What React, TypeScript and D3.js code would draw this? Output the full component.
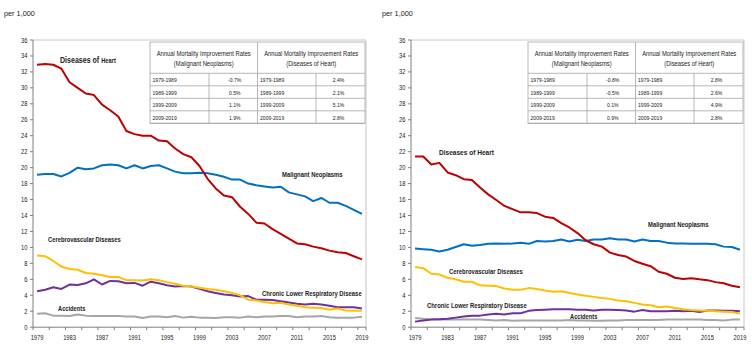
import React from "react";
import * as d3 from "d3";

// ---------- DATA ----------
const years = [1979,1980,1981,1982,1983,1984,1985,1986,1987,1988,1989,1990,1991,1992,1993,1994,1995,1996,1997,1998,1999,2000,2001,2002,2003,2004,2005,2006,2007,2008,2009,2010,2011,2012,2013,2014,2015,2016,2017,2018,2019];
const xTickLabels = [1979,1983,1987,1991,1995,1999,2003,2007,2011,2015,2019];
const yTicks = [0,2,4,6,8,10,12,14,16,18,20,22,24,26,28,30,32,34,36];

const seriesNames = ["Diseases of Heart","Malignant Neoplasms","Cerebrovascular Diseases","Chronic Lower Respiratory Disease","Accidents"];

// left panel
const heartL = [32.9,33.0,32.9,32.4,30.7,30.0,29.3,29.1,27.9,27.2,26.4,24.6,24.2,24.0,24.0,23.4,23.3,22.4,21.7,21.3,20.2,18.6,17.4,16.5,16.3,15.1,14.2,13.1,13.0,12.3,11.7,11.1,10.5,10.4,10.1,9.9,9.6,9.4,9.3,8.9,8.5];
const malL = [19.1,19.2,19.2,18.9,19.35,20.0,19.8,19.9,20.3,20.4,20.3,19.9,20.3,19.9,20.2,20.3,19.9,19.5,19.3,19.3,19.35,19.3,19.1,18.85,18.5,18.5,18.0,17.8,17.65,17.5,17.6,16.9,16.65,16.4,15.8,16.2,15.6,15.6,15.2,14.7,14.2];
const cereL = [9.0,8.9,8.3,7.6,7.3,7.2,6.8,6.7,6.5,6.3,6.3,5.9,5.9,5.85,6.0,5.9,5.65,5.45,5.2,5.1,4.95,4.8,4.7,4.5,4.3,4.0,3.45,3.35,3.15,3.0,3.05,2.85,2.7,2.5,2.45,2.4,2.2,2.35,2.1,2.05,2.05];
const clrdL = [4.5,4.7,5.0,4.8,5.35,5.3,5.5,6.0,5.35,5.8,5.75,5.5,5.55,5.2,5.7,5.5,5.25,5.1,5.15,5.1,4.8,4.5,4.3,4.1,4.0,3.85,3.9,3.45,3.45,3.4,3.25,3.1,2.95,2.85,2.95,2.85,2.7,2.5,2.5,2.5,2.35];
const accL = [1.7,1.75,1.45,1.45,1.4,1.6,1.45,1.4,1.4,1.4,1.4,1.35,1.35,1.15,1.35,1.35,1.25,1.4,1.2,1.3,1.2,1.2,1.15,1.25,1.25,1.2,1.35,1.25,1.35,1.35,1.4,1.4,1.25,1.35,1.35,1.4,1.25,1.2,1.2,1.2,1.3];

// right panel
const heartR = [21.4,21.4,20.4,20.6,19.4,19.05,18.55,18.45,17.5,16.65,15.95,15.2,14.8,14.4,14.4,14.3,13.85,13.7,13.05,12.5,11.8,10.9,10.4,10.1,9.35,9.05,8.85,8.3,7.95,7.65,6.95,6.7,6.2,6.05,6.15,6.0,5.9,5.65,5.5,5.2,5.0];
const malR = [9.85,9.77,9.7,9.5,9.7,10.05,10.4,10.2,10.3,10.45,10.5,10.45,10.5,10.6,10.45,10.8,10.75,10.8,11.0,10.75,10.95,10.8,11.0,11.0,11.15,11.0,11.0,10.75,11.0,10.8,10.8,10.6,10.5,10.5,10.45,10.45,10.45,10.4,10.1,10.05,9.7];
const cereR = [7.55,7.4,6.7,6.6,6.2,6.0,5.7,5.7,5.25,5.2,5.15,4.85,4.7,4.7,4.9,4.8,4.6,4.45,4.5,4.3,4.1,3.95,3.8,3.65,3.55,3.35,3.25,3.05,2.85,2.75,2.5,2.6,2.4,2.25,2.15,2.1,2.05,2.0,1.95,1.9,1.7];
const clrdR = [0.7,0.85,0.95,1.0,1.05,1.2,1.35,1.45,1.45,1.6,1.7,1.6,1.75,1.75,2.05,2.15,2.2,2.25,2.25,2.25,2.2,2.2,2.1,2.2,2.2,2.15,2.1,1.95,2.15,2.0,2.0,2.0,2.05,2.0,2.05,1.9,2.1,2.1,2.05,2.05,2.0];
const accR = [1.15,1.05,1.0,0.95,0.95,0.95,0.95,0.95,0.95,0.9,0.85,0.9,0.8,0.85,0.85,0.85,0.85,0.85,0.85,0.9,0.85,0.85,0.8,0.8,0.85,0.85,0.9,0.9,0.9,0.9,0.9,0.95,0.95,0.95,0.95,0.95,0.9,0.9,0.85,0.95,0.95];

// tables
const periods = ["1979-1989","1989-1999","1999-2009","2009-2019"];
const tableTitle = "Annual Mortality Improvement Rates";
const tableSubMal = "(Malignant Neoplasms)";
const tableSubHeart = "(Diseases of Heart)";
const malRatesL = ["-0.7%","0.5%","1.1%","1.9%"];
const heartRatesL = ["2.4%","2.1%","5.1%","2.8%"];
const malRatesR = ["-0.8%","-0.5%","0.1%","0.9%"];
const heartRatesR = ["2.8%","2.6%","4.9%","2.8%"];
const unitLabel = "per 1,000";

// ---------- STYLE ----------
const colors = ["#C00000", "#0070C0", "#FFC000", "#7030A0", "#A6A6A6"];
const FONT = "'Liberation Sans', Arial, sans-serif";
const TXT = "#222";
const SX = 0.82;

function NText({ x, y, size, anchor = "start", weight = "normal", children }: any) {
  return (
    <text
      transform={`translate(${x},${y}) scale(${SX},1)`}
      fontSize={size}
      textAnchor={anchor}
      fontWeight={weight}
      fontFamily={FONT}
      fill={TXT}
    >
      {children}
    </text>
  );
}

function Table({ x0, y0, malRates, heartRates }: any) {
  const c0 = x0, c1 = x0 + 59, c2 = x0 + 107.5, c3 = x0 + 166, c4 = x0 + 215;
  const hTop = y0, hBot = y0 + 31.3, rowH = 12.5;
  const rowsBottom = hBot + rowH * periods.length;
  const stroke = "#a6a6a6";
  return (
    <g>
      <rect x={c0} y={hTop} width={c4 - c0} height={rowsBottom - hTop} fill="#fff" stroke={stroke} strokeWidth={0.8} />
      <line x1={c2} x2={c2} y1={hTop} y2={rowsBottom} stroke={stroke} strokeWidth={0.8} />
      <line x1={c0} x2={c4} y1={hBot} y2={hBot} stroke={stroke} strokeWidth={0.8} />
      <line x1={c1} x2={c1} y1={hBot} y2={rowsBottom} stroke={stroke} strokeWidth={0.8} />
      <line x1={c3} x2={c3} y1={hBot} y2={rowsBottom} stroke={stroke} strokeWidth={0.8} />
      {periods.map((p, i) => (
        <line key={"r" + i} x1={c0} x2={c4} y1={hBot + rowH * (i + 1)} y2={hBot + rowH * (i + 1)} stroke={stroke} strokeWidth={0.8} />
      ))}
      <NText x={(c0 + c2) / 2} y={hTop + 13.5} size={7.1} anchor="middle">{tableTitle}</NText>
      <NText x={(c0 + c2) / 2} y={hTop + 23.5} size={7.1} anchor="middle">{tableSubMal}</NText>
      <NText x={(c2 + c4) / 2} y={hTop + 13.5} size={7.1} anchor="middle">{tableTitle}</NText>
      <NText x={(c2 + c4) / 2} y={hTop + 23.5} size={7.1} anchor="middle">{tableSubHeart}</NText>
      {periods.map((p, i) => {
        const yb = hBot + rowH * i + 8.8;
        return (
          <g key={"t" + i}>
            <NText x={c0 + 2.5} y={yb} size={6.2}>{p}</NText>
            <NText x={(c1 + c2) / 2 + 1.5} y={yb} size={6.2} anchor="middle">{malRates[i]}</NText>
            <NText x={c2 + 2.5} y={yb} size={6.2}>{p}</NText>
            <NText x={(c3 + c4) / 2 - 2} y={yb} size={6.2} anchor="middle">{heartRates[i]}</NText>
          </g>
        );
      })}
    </g>
  );
}

function Panel({ ox, data, labels, malRates, heartRates, heartSplit }: any) {
  const left = ox + 33, right = ox + 366;
  const x = d3.scaleBand<number>().domain(years).range([left, right]).paddingInner(0).paddingOuter(0);
  const bw = x.bandwidth();
  const cx = (yr: number) => (x(yr) as number) + bw / 2;
  const y = d3.scaleLinear().domain([0, 36]).range([327.2, 40]);
  const line = d3.line<number>().x((_, i) => cx(years[i])).y((v) => y(v));
  const axisC = "#7f7f7f";
  const tickBounds = years.filter((_, i) => i % 2 === 0).map((yr) => x(yr) as number).concat([right]);

  return (
    <g>
      <text x={ox + 4} y={15.5} fontSize={7.3} fontFamily={FONT} fill={TXT}>{unitLabel}</text>
      <line x1={left} x2={right} y1={y(36)} y2={y(36)} stroke="#c8c8c8" strokeWidth={1} />
      <line x1={right} x2={right} y1={y(36)} y2={y(0)} stroke="#c8c8c8" strokeWidth={1} />
      <line x1={left} x2={left} y1={y(36)} y2={y(0)} stroke={axisC} strokeWidth={1} />
      {yTicks.map((t) => (
        <g key={"y" + t}>
          <line x1={left - 3} x2={left} y1={y(t)} y2={y(t)} stroke={axisC} strokeWidth={1} />
          <NText x={left - 5.5} y={y(t) + 2.5} size={7} anchor="end">{t}</NText>
        </g>
      ))}
      <line x1={left} x2={right} y1={y(0)} y2={y(0)} stroke={axisC} strokeWidth={1} />
      {tickBounds.map((b, i) => (
        <line key={"xt" + i} x1={b} x2={b} y1={y(0)} y2={y(0) + 3} stroke={axisC} strokeWidth={1} />
      ))}
      {xTickLabels.map((yr) => (
        <NText key={"xl" + yr} x={cx(yr)} y={340} size={7} anchor="middle">{yr}</NText>
      ))}
      {data.slice().reverse().map((vals: number[], ri: number) => {
        const i = data.length - 1 - ri;
        return <path key={"s" + i} d={line(vals) as string} fill="none" stroke={colors[i]} strokeWidth={2} strokeLinejoin="round" />;
      })}
      <Table x0={left + 117} y0={42} malRates={malRates} heartRates={heartRates} />
      {labels.map((l: any, i: number) =>
        i === 0 && heartSplit ? (
          <text key={"lab" + i} transform={`translate(${l.x},${l.y}) scale(${SX},1)`} fontFamily={FONT} fontWeight="bold" fill={TXT}>
            <tspan fontSize={8.6}>Diseases of </tspan>
            <tspan fontSize={7}>Heart</tspan>
          </text>
        ) : (
          <NText key={"lab" + i} x={l.x} y={l.y} size={l.size} weight="bold">{seriesNames[i]}</NText>
        )
      )}
    </g>
  );
}

const labelsL = [
  { x: 60, y: 63, size: 8.6 },
  { x: 282, y: 177, size: 7.2 },
  { x: 48, y: 242, size: 7.1 },
  { x: 262, y: 296, size: 7.2 },
  { x: 58, y: 311, size: 7.0 },
];
const labelsR = [
  { x: 439, y: 155, size: 8 },
  { x: 648, y: 227, size: 7.2 },
  { x: 449, y: 274, size: 7.2 },
  { x: 427, y: 308, size: 7.2 },
  { x: 570, y: 319, size: 7.0 },
];

export default function App() {
  return (
    <svg width={752} height={346} style={{ position: "absolute", left: 0, top: 0, background: "#fff" }}>
      <rect width={752} height={346} fill="#fff" />
      <Panel ox={0} data={[heartL, malL, cereL, clrdL, accL]} labels={labelsL} malRates={malRatesL} heartRates={heartRatesL} heartSplit />
      <Panel ox={378} data={[heartR, malR, cereR, clrdR, accR]} labels={labelsR} malRates={malRatesR} heartRates={heartRatesR} heartSplit={false} />
    </svg>
  );
}
